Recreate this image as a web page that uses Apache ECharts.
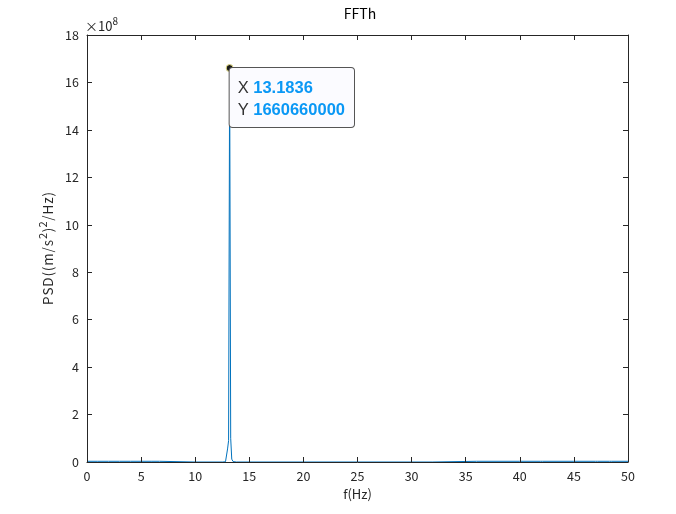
<!DOCTYPE html>
<html><head><meta charset="utf-8">
<script src="https://cdn.jsdelivr.net/npm/echarts@6/dist/echarts.min.js"></script>
<style>html,body{margin:0;padding:0;background:#fff}#c{width:676px;height:514px}</style>
</head><body><div id="c"></div>
<script>
// frequency (Hz)
const freqs = [0, 1, 2, 3, 4, 5, 6, 6.7, 6.8, 10, 12.5, 12.8, 12.89, 12.99, 13.086, 13.1836, 13.281, 13.379, 13.5, 13.8, 20, 31.9, 32.0, 36, 40, 41.9, 42.0, 42.1, 42.2, 45, 47.0, 47.1, 47.2, 48.3, 48.4, 48.5, 50];
// PSD ((m/s^2)^2/Hz)
const psd = [3e6, 3e6, 3e6, 3e6, 3e6, 3e6, 3e6, 3e6, 0, 0, 0, 1e6, 8e6, 5.5e7, 9e7, 1660660000, 1.0e8, 1.2e7, 2e6, 0, 0, 0, 3e6, 3e6, 3e6, 3e6, 8e6, 3e6, 3e6, 3e6, 3e6, 0, 3e6, 3e6, 0, 3e6, 3e6];
const xTicks = [0, 5, 10, 15, 20, 25, 30, 35, 40, 45, 50];
const yTicks = [0, 2, 4, 6, 8, 10, 12, 14, 16, 18];
const peakX = 13.1836, peakY = 1660660000;

const FONT = 'Noto Sans CJK JP';
const AX = '#262626';
const HS = '\u200A';
const sp = s => s.split('').join(HS);
const chart = echarts.init(document.getElementById('c'));
const commonTick = {show: true, inside: true, length: 5, lineStyle: {color: AX, width: 1}};
chart.setOption({
  animation: false,
  title: {text: 'FFTh', left: 355, top: 2, textAlign: 'center',
    textStyle: {fontFamily: FONT, fontSize: 14, fontWeight: 'normal', color: '#000'}},
  grid: {left: 87, right: 48, top: 35, bottom: 52},
  xAxis: [{
    type: 'value', min: 0, max: 50, interval: 5, z: 10,
    name: 'f(Hz)', nameLocation: 'middle', nameGap: 24,
    nameTextStyle: {fontFamily: FONT, fontSize: 13, color: AX},
    axisLine: {show: true, lineStyle: {color: AX, width: 1}},
    axisTick: commonTick, splitLine: {show: false},
    axisLabel: {fontFamily: FONT, fontSize: 12.5, color: AX, margin: 8}
  }, {
    type: 'value', position: 'top', min: 0, max: 50, interval: 5, z: 10,
    axisLine: {show: true, onZero: false, lineStyle: {color: AX, width: 1}},
    axisTick: commonTick, splitLine: {show: false}, axisLabel: {show: false}
  }],
  yAxis: [{
    type: 'value', min: 0, max: 1.8e9, interval: 2e8, z: 10,
    name: '{a|' + sp('PSD((m/s') + HS + '}{s|2}{a|' + HS + ')}{s|2}{a|' + HS + sp('/Hz)') + '}',
    nameLocation: 'middle', nameGap: 30,
    nameTextStyle: {fontFamily: FONT, fontSize: 13, color: AX, rich: {
      a: {fontFamily: FONT, fontSize: 13.5, color: AX, padding: [4, 0, 0, 0]},
      s: {fontFamily: FONT, fontSize: 11, color: AX, padding: [0, 0, 6, 0]}
    }},
    axisLine: {show: true, lineStyle: {color: AX, width: 1}},
    axisTick: commonTick, splitLine: {show: false},
    axisLabel: {fontFamily: FONT, fontSize: 12.5, color: AX, margin: 8,
      formatter: v => String(Math.round(v / 1e8))}
  }, {
    type: 'value', position: 'right', min: 0, max: 1.8e9, interval: 2e8, z: 10,
    axisLine: {show: true, onZero: false, lineStyle: {color: AX, width: 1}},
    axisTick: commonTick, splitLine: {show: false}, axisLabel: {show: false}
  }],
  graphic: [{
    type: 'text', left: 85, top: 16,
    style: {text: '{a|×10}{b|8}', rich: {
      a: {fontFamily: FONT, fontSize: 13, fill: AX, padding: [5, 0, 0, 0]},
      b: {fontFamily: FONT, fontSize: 10, fill: AX, padding: [0, 0, 6, 0]}
    }}
  }],
  series: [{
    type: 'line', z: 2, xAxisIndex: 0, yAxisIndex: 0,
    data: freqs.map((f, i) => [f, psd[i]]),
    symbol: 'none', lineStyle: {color: '#0072BD', width: 1},
    markPoint: {
      symbol: 'circle', symbolSize: 7,
      itemStyle: {color: '#1a1a1a', borderColor: '#e8e088', borderWidth: 1},
      data: [{coord: [peakX, peakY], value: peakY}],
      label: {
        show: true, position: [4, 4], align: 'left', verticalAlign: 'top',
        formatter: () => '{k|X }{v|' + peakX + '}\n{k|Y }{v|' + peakY + '}',
        backgroundColor: '#fbfbff', borderColor: '#555', borderWidth: 1, borderRadius: 3,
        padding: [9, 9, 6, 8],
        rich: {
          k: {fontFamily: 'Liberation Sans', fontSize: 16.5, color: '#333', lineHeight: 22},
          v: {fontFamily: 'Liberation Sans', fontSize: 16.5, fontWeight: 'bold', color: '#0a98f5', lineHeight: 22}
        }
      }
    }
  }]
});
</script></body></html>
